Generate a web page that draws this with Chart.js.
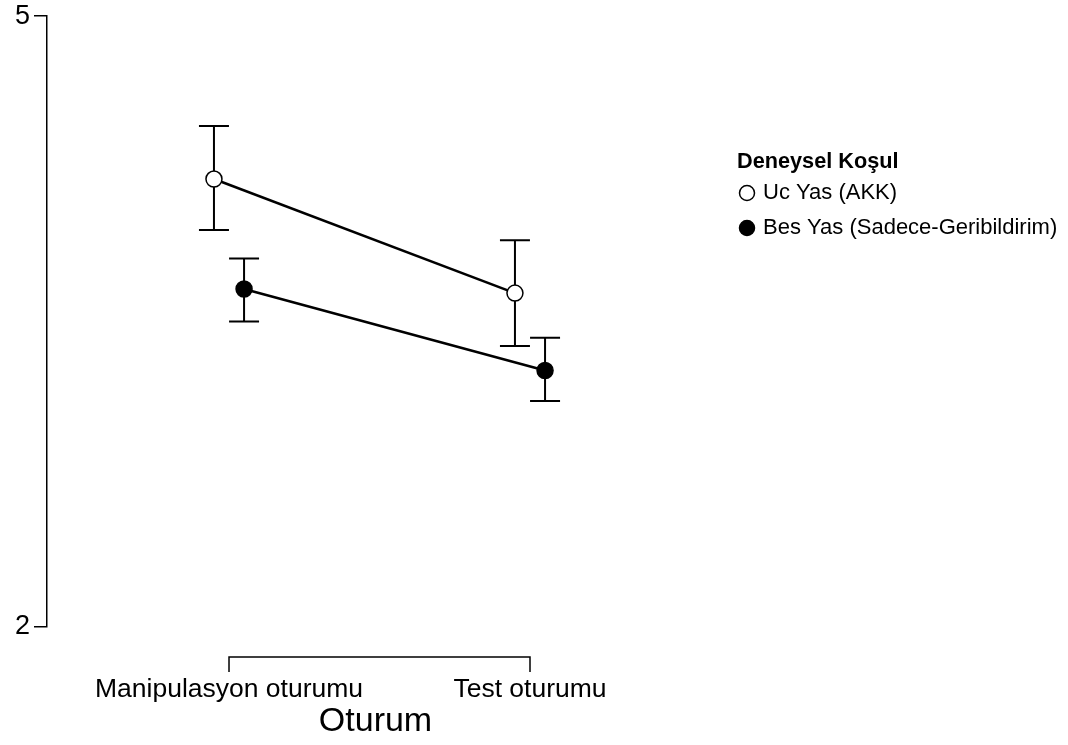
<!DOCTYPE html>
<html>
<head>
<meta charset="utf-8">
<script src="https://cdn.jsdelivr.net/npm/chart.js@4/dist/chart.umd.min.js"></script>
<style>
    body { margin: 0; background: #fff; }
    #contenedor { width: 1068px; height: 745px; }
</style>
</head>
<body>
<div id="contenedor"><canvas id="grafica"></canvas></div>
<script>
const categorias = ['Manipulasyon oturumu', 'Test oturumu'];
const tituloX = 'Oturum';
const tituloLeyenda = 'Deneysel Koşul';
const grupos = ['Uc Yas (AKK)', 'Bes Yas (Sadece-Geribildirim)'];

const ucYasMedia = [4.20, 3.64];
const ucYasInf = [3.95, 3.38];
const ucYasSup = [4.46, 3.90];

const besYasMedia = [3.66, 3.26];
const besYasInf = [3.50, 3.11];
const besYasSup = [3.81, 3.42];

const yTicks = [2, 5];
const desplazamiento = [-0.05, 0.05];

const fuente = "'Liberation Sans', Arial, sans-serif";

function puntos(medias, k) {
    return medias.map((v, i) => ({ x: i + desplazamiento[k], y: v }));
}

const barrasError = [
    { inf: ucYasInf, sup: ucYasSup },
    { inf: besYasInf, sup: besYasSup }
];

// barras de error, debajo de los puntos
const pluginBarras = {
    id: 'barrasError',
    beforeDatasetsDraw(chart) {
        const ctx = chart.ctx;
        const xs = chart.scales.x;
        const ys = chart.scales.y;
        ctx.save();
        ctx.strokeStyle = '#000';
        ctx.lineWidth = 2;
        barrasError.forEach((b, k) => {
            b.inf.forEach((inf, i) => {
                const px = xs.getPixelForValue(i + desplazamiento[k]);
                const y1 = ys.getPixelForValue(inf);
                const y2 = ys.getPixelForValue(b.sup[i]);
                ctx.beginPath();
                ctx.moveTo(px, y1);
                ctx.lineTo(px, y2);
                ctx.moveTo(px - 15, y1);
                ctx.lineTo(px + 15, y1);
                ctx.moveTo(px - 15, y2);
                ctx.lineTo(px + 15, y2);
                ctx.stroke();
            });
        });
        ctx.restore();
    }
};

// eje x en forma de corchete y leyenda
const pluginEjeX = {
    id: 'ejeX',
    afterDraw(chart) {
        const ctx = chart.ctx;
        const xs = chart.scales.x;
        const x0 = xs.getPixelForValue(0);
        const x1 = xs.getPixelForValue(categorias.length - 1);
        const yEje = 657;
        ctx.save();
        ctx.strokeStyle = '#000';
        ctx.lineWidth = 1.5;
        ctx.beginPath();
        ctx.moveTo(x0, yEje + 15);
        ctx.lineTo(x0, yEje);
        ctx.lineTo(x1, yEje);
        ctx.lineTo(x1, yEje + 15);
        ctx.stroke();

        ctx.fillStyle = '#000';
        ctx.textAlign = 'center';
        ctx.textBaseline = 'middle';
        ctx.font = '26.5px ' + fuente;
        categorias.forEach((c, i) => {
            ctx.fillText(c, xs.getPixelForValue(i), 690);
        });
        ctx.font = '34px ' + fuente;
        ctx.fillText(tituloX, (x0 + x1) / 2 - 4, 722);

        // leyenda
        ctx.textAlign = 'left';
        ctx.font = 'bold 21.7px ' + fuente;
        ctx.fillText(tituloLeyenda, 737, 162);
        ctx.font = '22px ' + fuente;
        const rellenos = ['#fff', '#000'];
        grupos.forEach((g, k) => {
            const y = 193 + k * 35;
            ctx.beginPath();
            ctx.arc(747, y, 7.5, 0, Math.PI * 2);
            ctx.fillStyle = rellenos[k];
            ctx.fill();
            ctx.lineWidth = 1.5;
            ctx.stroke();
            ctx.fillStyle = '#000';
            ctx.fillText(g, 763, y);
        });
        ctx.restore();
    }
};

const ctx = document.getElementById('grafica').getContext('2d');

new Chart(ctx, {
    type: 'line',
    data: {
        datasets: [
            {
                label: grupos[0],
                data: puntos(ucYasMedia, 0),
                borderColor: '#000',
                borderWidth: 2.5,
                pointRadius: 8,
                pointBackgroundColor: '#fff',
                pointBorderColor: '#000',
                pointBorderWidth: 1.5
            },
            {
                label: grupos[1],
                data: puntos(besYasMedia, 1),
                borderColor: '#000',
                borderWidth: 2.5,
                pointRadius: 8,
                pointBackgroundColor: '#000',
                pointBorderColor: '#000',
                pointBorderWidth: 1.5
            }
        ]
    },
    options: {
        responsive: true,
        maintainAspectRatio: false,
        animation: false,
        layout: {
            padding: { top: 14, right: 368, bottom: 118, left: 0 }
        },
        plugins: {
            legend: { display: false },
            tooltip: { enabled: false }
        },
        scales: {
            x: {
                type: 'linear',
                display: false,
                min: -0.6047,
                max: 1.5648
            },
            y: {
                min: 2,
                max: 5,
                afterBuildTicks: function (scale) {
                    scale.ticks = yTicks.map(v => ({ value: v }));
                },
                afterFit: function (scale) {
                    scale.width = 47;
                },
                grid: {
                    drawOnChartArea: false,
                    drawTicks: true,
                    tickLength: 13,
                    color: '#000',
                    lineWidth: 1.5
                },
                border: { display: true, color: '#000', width: 1.5 },
                ticks: {
                    color: '#000',
                    padding: 4,
                    font: { size: 27, family: fuente, lineHeight: 0.9 }
                }
            }
        }
    },
    plugins: [pluginBarras, pluginEjeX]
});
</script>
</body>
</html>
